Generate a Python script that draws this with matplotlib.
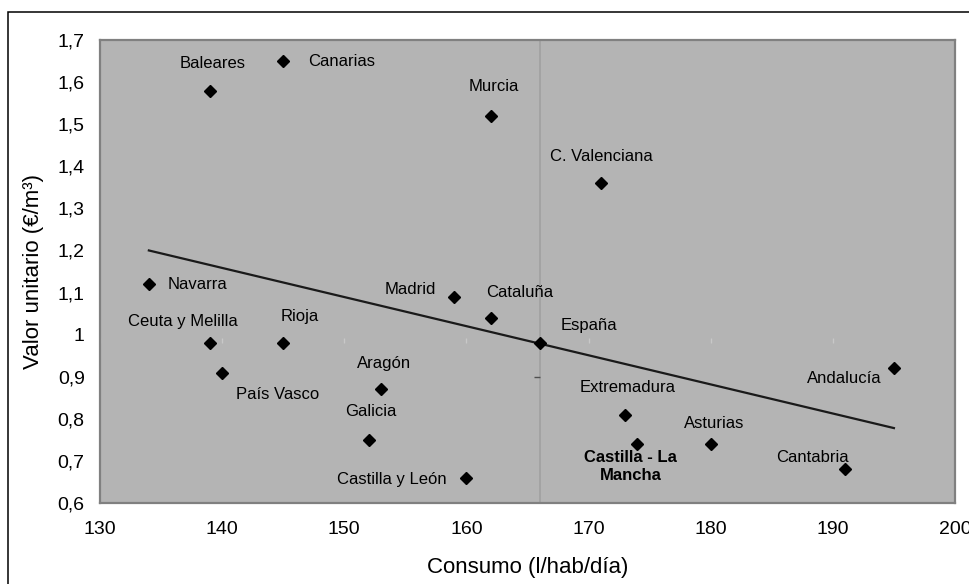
import numpy as np
import matplotlib
matplotlib.use("Agg")
import matplotlib.pyplot as plt
from matplotlib.patches import Rectangle

plt.rcParams['font.family'] = ['Liberation Sans', 'DejaVu Sans']

# consumo (l/hab/dia) vs valor unitario (EUR/m3) por comunidad
regions = ["Baleares", "Canarias", "Murcia", "C. Valenciana", "Navarra",
           "Madrid", "Cataluña", "España", "Ceuta y Melilla", "Rioja",
           "País Vasco", "Aragón", "Galicia", "Castilla y León",
           "Extremadura", "Castilla - La\nMancha", "Asturias", "Cantabria",
           "Andalucía"]
consumo = [139, 145, 162, 171, 134, 159, 162, 166, 139, 145,
           140, 153, 152, 160, 173, 174, 180, 191, 195]
valor = [1.58, 1.65, 1.52, 1.36, 1.12, 1.09, 1.04, 0.98, 0.98, 0.98,
         0.91, 0.87, 0.75, 0.66, 0.81, 0.74, 0.74, 0.68, 0.92]

# linear trend line
trend_x = [134, 195]
trend_y = [1.20, 0.778]

xticks = [130, 140, 150, 160, 170, 180, 190, 200]
yticks = [0.6, 0.7, 0.8, 0.9, 1.0, 1.1, 1.2, 1.3, 1.4, 1.5, 1.6, 1.7]
ytick_labels = ["0,6", "0,7", "0,8", "0,9", "1", "1,1", "1,2", "1,3",
                "1,4", "1,5", "1,6", "1,7"]

# label placement: (dx px, dy px downwards, alignment)
label_pos = {
    "Baleares": (3, -27, "center"),
    "Canarias": (25, 0, "left"),
    "Murcia": (3, -29, "center"),
    "C. Valenciana": (1, -27, "center"),
    "Navarra": (19, 0, "left"),
    "Madrid": (-18, -7, "right"),
    "Cataluña": (29, -25, "center"),
    "España": (49, -18, "center"),
    "Ceuta y Melilla": (-27, -22, "center"),
    "Rioja": (17, -27, "center"),
    "País Vasco": (55, 22, "center"),
    "Aragón": (3, -26, "center"),
    "Galicia": (2, -28, "center"),
    "Castilla y León": (-20, 2, "right"),
    "Extremadura": (2, -27, "center"),
    "Castilla - La\nMancha": (-7, 22, "center"),
    "Asturias": (3, -21, "center"),
    "Cantabria": (-33, -12, "center"),
    "Andalucía": (-12, 10, "right"),
}

W, H = 970, 584
fig = plt.figure(figsize=(W / 100, H / 100), dpi=100)
ax = fig.add_axes([100 / W, 1 - 503 / H, 855 / W, 463 / H])
ax.set_facecolor("#b4b4b4")
for s in ax.spines.values():
    s.set_color("#808080")
    s.set_linewidth(1.6)

ax.set_xlim(130, 200)
ax.set_ylim(0.6, 1.7)
ax.set_xticks(xticks)
ax.set_yticks(yticks)
ax.set_yticklabels(ytick_labels)
ax.tick_params(length=0, labelsize=14)
ax.tick_params(axis="x", pad=13)
ax.tick_params(axis="y", pad=11)

# axes crossing at España
cross_x, cross_y = consumo[7], valor[7]
ax.axvline(cross_x, color="#a0a0a0", lw=1.2, zorder=1)
ax.vlines(xticks, cross_y, cross_y + 0.012, color="#c8c8c8", lw=1, zorder=1)
ax.hlines(0.9, cross_x - 0.5, cross_x, color="#505050", lw=1, zorder=1)

ax.plot(trend_x, trend_y, color="#1a1a1a", lw=1.6, zorder=2)
ax.plot(consumo, valor, "D", color="black", ms=6, ls="none", zorder=3)

for name, x, y in zip(regions, consumo, valor):
    dx, dy, ha = label_pos[name]
    bold = name.startswith("Castilla - La")
    ax.annotate(name, (x, y), xytext=(dx * 0.72, -dy * 0.72),
                textcoords="offset points", ha=ha, va="center",
                fontsize=12, fontweight="bold" if bold else "normal",
                linespacing=1.25)

ax.set_xlabel("Consumo (l/hab/día)", fontsize=16, labelpad=14)
ax.set_ylabel("Valor unitario (€/m³)", fontsize=16, labelpad=10)

# outer chart frame (partly cut off at right and bottom)
fig.patches.append(Rectangle((8 / W, -0.5), 1.5, 1 - 12 / H + 0.5,
                             transform=fig.transFigure, fill=False,
                             edgecolor="black", lw=1.1))

fig.savefig("out.png", dpi=100)
